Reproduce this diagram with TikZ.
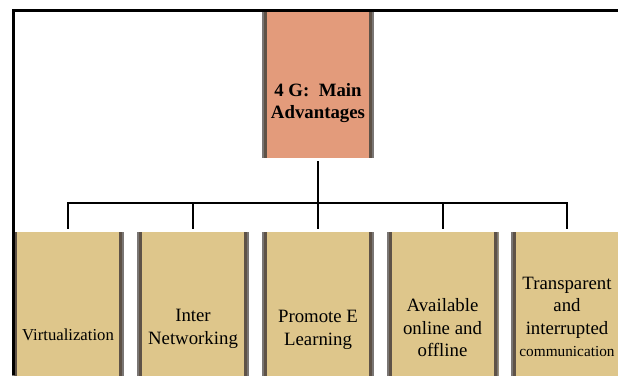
\documentclass[tikz,border=0pt]{standalone}
\usepackage{fontspec}
\setmainfont{Liberation Serif}
\usetikzlibrary{calc}
\definecolor{salmon}{HTML}{E39B7B}
\definecolor{tan}{HTML}{DEC68B}
\definecolor{bardark}{HTML}{5E5247}
\definecolor{bargray}{HTML}{7A7674}
\tikzset{
	box/.style={rectangle, inner sep=0pt, minimum width=112pt, draw=none,
		path picture={
			\fill[bargray] (path picture bounding box.north west) rectangle ([xshift=2pt]path picture bounding box.south west);
			\fill[bardark] ([xshift=2pt]path picture bounding box.north west) rectangle ([xshift=5pt]path picture bounding box.south west);
			\fill[bargray] ([xshift=-2pt]path picture bounding box.north east) rectangle (path picture bounding box.south east);
			\fill[bardark] ([xshift=-5pt]path picture bounding box.north east) rectangle ([xshift=-2pt]path picture bounding box.south east);
		}},
	topbox/.style={box, fill=salmon, minimum height=146pt},
	subbox/.style={box, fill=tan, minimum height=168pt},
	txt/.style={inner sep=0pt, align=center, font=\fontsize{18.8}{22.5}\selectfont},
	conn/.style={line width=2pt, black},
}
\begin{document}
\begin{tikzpicture}[x=1pt, y=-1pt]
			%%%%% START %%%%%
			\useasboundingbox (0,0) rectangle (618,375);
			\clip (0,0) rectangle (618,375);
			
			\node[topbox] (adv) at (318, 85) {};
			\node[txt, font=\fontsize{18.8}{21.5}\selectfont\bfseries] (t-adv) at (318, 103) {4 G:~ Main\\Advantages};
			
			\node[subbox] (virt) at (68, 316) {};
			\node[subbox] (inter) at (193, 316) {};
			\node[subbox] (elearn) at (318, 316) {};
			\node[subbox] (avail) at (442.5, 316) {};
			\node[subbox] (trans) at (567, 316) {};
			
			\node[txt, font=\fontsize{16.7}{20}\selectfont] (t-virt) at (68, 335) {Virtualization};
			\node[txt] (t-inter) at (193, 329) {Inter\\Networking};
			\node[txt] (t-elearn) at (318, 330) {Promote E\\Learning};
			\node[txt] (t-avail) at (442.5, 328) {Available\\online and\\offline};
			\node[txt] (t-trans) at (567, 317) {Transparent\\and\\interrupted\\{\fontsize{15.3}{18}\selectfont communication}};
			
			\coordinate (bus) at (318, 202.5);
			\draw[conn, shorten <=3pt] (adv.south) -- (bus);
			\foreach \n in {virt,inter,elearn,avail,trans}
				\draw[conn, shorten >=3pt] (bus) -| (\n.north);
			
			\draw[line width=3pt] (13.5, 375) -- (13.5, 10.5) -- (618, 10.5);
			%%%%% END %%%%%
\end{tikzpicture}
\end{document}
